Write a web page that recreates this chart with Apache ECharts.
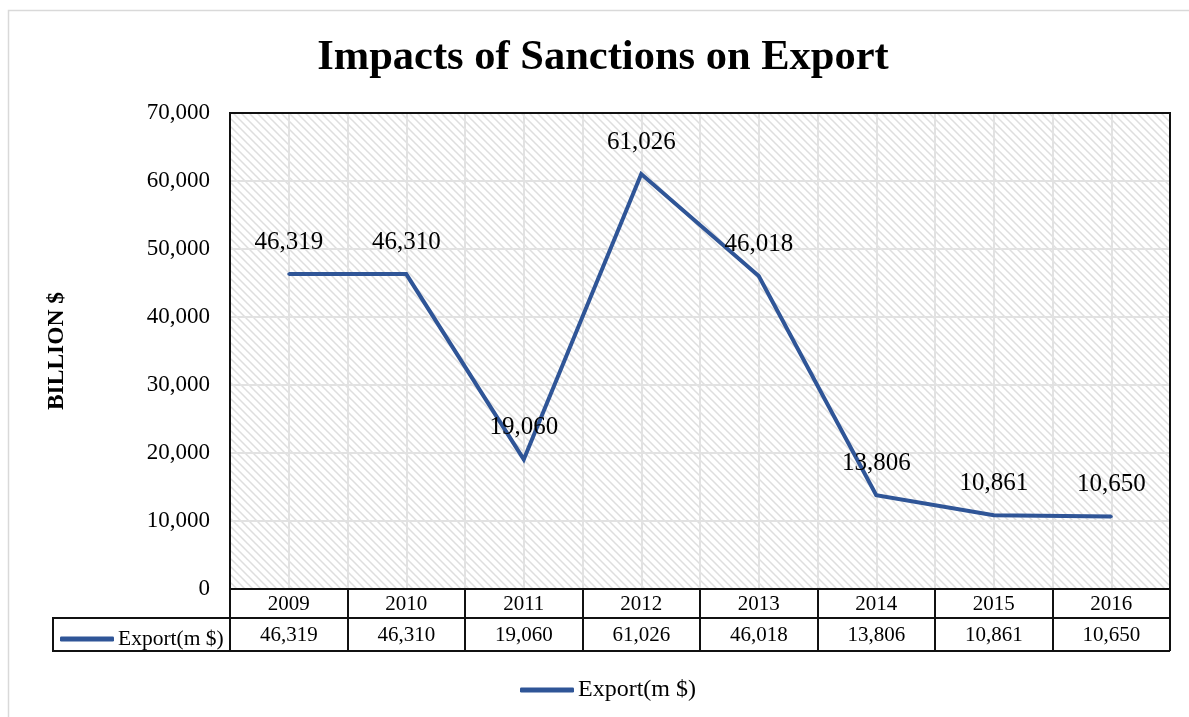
<!DOCTYPE html>
<html>
<head>
<meta charset="utf-8">
<script src="https://cdn.jsdelivr.net/npm/echarts@6/dist/echarts.min.js"></script>
<style>
  html, body { margin: 0; padding: 0; background: #fff; }
  #chart { width: 1189px; height: 717px; }
</style>
</head>
<body>
<div id="chart"></div>
<script>
// Export values by year (m $)
const years = ['2009', '2010', '2011', '2012', '2013', '2014', '2015', '2016'];
const exportValues = [46319, 46310, 19060, 61026, 46018, 13806, 10861, 10650];
const seriesName = 'Export(m $)';
const yTicks = [0, 10000, 20000, 30000, 40000, 50000, 60000, 70000];

const FONT = '"Liberation Serif", "Times New Roman", serif';
const LINE_COLOR = '#2F5597';

function fmt(v) {
  return v.toLocaleString('en-US');
}

// Diagonal hatch tile for the plot background
function hatchPattern() {
  const size = 8;
  const c = document.createElement('canvas');
  c.width = size; c.height = size;
  const ctx = c.getContext('2d');
  ctx.fillStyle = '#ffffff';
  ctx.fillRect(0, 0, size, size);
  ctx.strokeStyle = '#dedede';
  ctx.lineWidth = 1.5;
  ctx.beginPath();
  ctx.moveTo(-1, -1); ctx.lineTo(size + 1, size + 1);
  ctx.moveTo(-1, size - 1); ctx.lineTo(1, size + 1);
  ctx.moveTo(size - 1, -1); ctx.lineTo(size + 1, 1);
  ctx.stroke();
  return c;
}

const chart = echarts.init(document.getElementById('chart'), null, { renderer: 'canvas' });

const gridLeft = 230, gridTop = 113, gridWidth = 940, gridHeight = 476;
const tableLeft = 53;
const rowH1 = 29, rowH2 = 33;

chart.setOption({
  animation: false,
  textStyle: { fontFamily: FONT, color: '#000' },
  title: {
    text: 'Impacts of Sanctions on Export',
    left: 598,
    textAlign: 'center',
    top: 32,
    textStyle: { fontFamily: FONT, fontSize: 42.5, fontWeight: 'bold', color: '#000' }
  },
  legend: [
    {
      data: [seriesName],
      left: 515,
      top: 673,
      icon: 'roundRect',
      itemWidth: 54,
      itemHeight: 5,
      itemGap: 4,
      selectedMode: false,
      textStyle: { fontFamily: FONT, fontSize: 24, color: '#000', padding: [0, 0, 0, -1] }
    },
    {
      data: [seriesName],
      left: 55,
      top: gridTop + gridHeight + rowH1 + 5,
      icon: 'roundRect',
      itemWidth: 54,
      itemHeight: 5,
      itemGap: 4,
      selectedMode: false,
      textStyle: { fontFamily: FONT, fontSize: 21.5, color: '#000', padding: [0, 0, 0, -1] }
    }
  ],
  grid: {
    left: gridLeft,
    top: gridTop,
    width: gridWidth,
    height: gridHeight,
    show: true,
    backgroundColor: { image: hatchPattern(), repeat: 'repeat' },
    borderWidth: 0
  },
  xAxis: [
    {
      // years row of the data table
      type: 'category',
      data: years,
      position: 'bottom',
      boundaryGap: true,
      axisLine: { show: true, lineStyle: { color: '#111', width: 2 } },
      axisTick: {
        show: true, interval: 0, alignWithLabel: false,
        length: rowH1 + rowH2,
        lineStyle: { color: '#111', width: 2 }
      },
      axisLabel: { fontSize: 21, color: '#000', margin: 5, fontFamily: FONT },
      splitLine: { show: false },
      z: 5
    },
    {
      // values row of the data table
      type: 'category',
      data: years,
      position: 'bottom',
      offset: rowH1,
      boundaryGap: true,
      axisLine: { show: true, lineStyle: { color: '#111', width: 2 } },
      axisTick: { show: false },
      axisLabel: {
        fontSize: 21, color: '#000', margin: 7, fontFamily: FONT,
        formatter: (v, i) => fmt(exportValues[i])
      },
      splitLine: { show: false }
    },
    {
      // half-category vertical gridlines
      type: 'value',
      min: 0,
      max: years.length * 2,
      interval: 1,
      position: 'top',
      axisLine: { show: false },
      axisTick: { show: false },
      axisLabel: { show: false },
      splitLine: { show: true, lineStyle: { color: '#e2e2e2', width: 2 } }
    }
  ],
  yAxis: {
    type: 'value',
    min: yTicks[0],
    max: yTicks[yTicks.length - 1],
    interval: yTicks[1] - yTicks[0],
    name: 'BILLION $',
    nameLocation: 'middle',
    nameRotate: 90,
    nameGap: 161,
    nameTextStyle: { fontFamily: FONT, fontSize: 23.5, fontWeight: 'bold', color: '#000' },
    axisLine: { show: false },
    axisTick: { show: false },
    axisLabel: { fontSize: 23, color: '#000', margin: 20, fontFamily: FONT, formatter: v => fmt(v) },
    splitLine: { show: true, lineStyle: { color: '#e2e2e2', width: 2 } }
  },
  series: [
    {
      name: seriesName,
      type: 'line',
      xAxisIndex: 0,
      data: exportValues,
      symbol: 'circle',
      symbolSize: 3,
      showSymbol: true,
      lineStyle: { color: LINE_COLOR, width: 4, join: 'miter' },
      itemStyle: { color: LINE_COLOR },
      label: {
        show: true,
        position: 'top',
        distance: 18,
        fontSize: 25,
        color: '#000',
        fontFamily: FONT,
        formatter: p => fmt(p.value)
      },
      labelLayout: { hideOverlap: false },
      z: 10
    }
  ],
  graphic: [
    {
      // outer chart frame
      type: 'rect',
      shape: { x: 8.5, y: 10.5, width: 1200, height: 720 },
      style: { fill: 'none', stroke: '#d9d9d9', lineWidth: 1.5 },
      silent: true,
      z: -10
    },
    {
      // plot area frame
      type: 'rect',
      shape: { x: gridLeft, y: gridTop, width: gridWidth, height: gridHeight },
      style: { fill: 'none', stroke: '#111', lineWidth: 2 },
      silent: true,
      z: 8
    },
    {
      // legend cell of the data table
      type: 'polyline',
      shape: {
        points: [
          [gridLeft, gridTop + gridHeight + rowH1],
          [tableLeft, gridTop + gridHeight + rowH1],
          [tableLeft, gridTop + gridHeight + rowH1 + rowH2],
          [gridLeft + gridWidth, gridTop + gridHeight + rowH1 + rowH2]
        ]
      },
      style: { fill: 'none', stroke: '#111', lineWidth: 2 },
      silent: true,
      z: 10
    }
  ]
});
</script>
</body>
</html>
